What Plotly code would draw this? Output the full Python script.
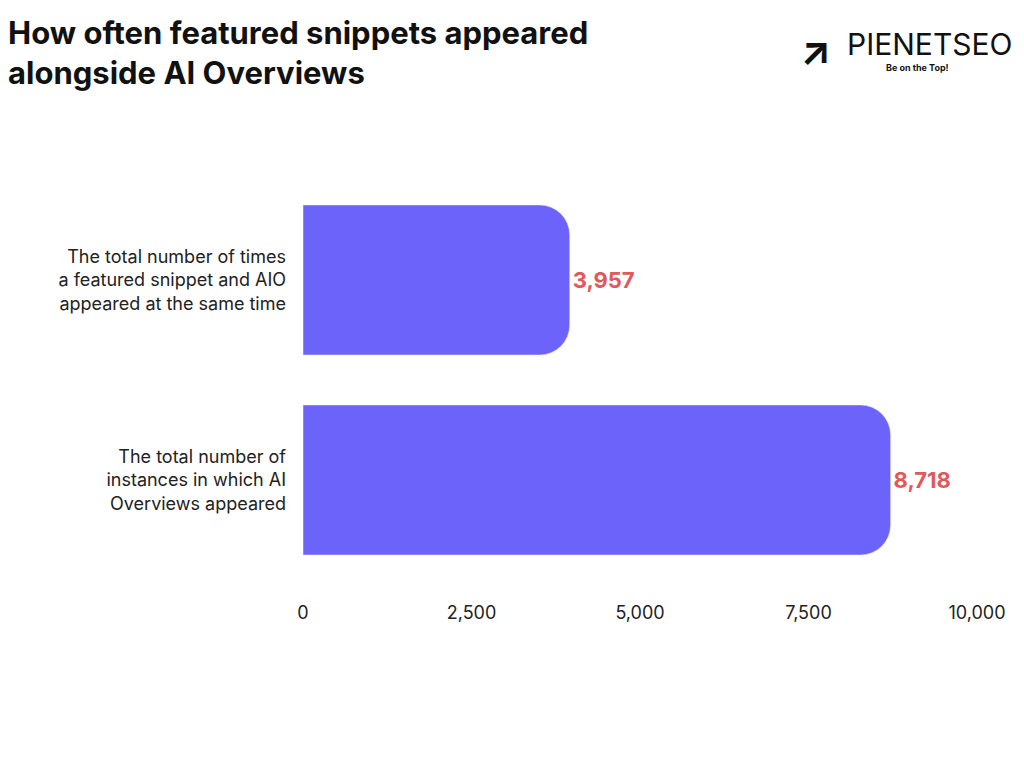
import plotly.graph_objects as go

categories = ["The total number of<br>instances in which AI<br>Overviews appeared",
              "The total number of times<br>a featured snippet and AIO<br>appeared at the same time"]
values = [8718, 3957]
value_labels = ["8,718", "3,957"]
tick_vals = [0, 2500, 5000, 7500, 10000]
tick_text = ["0", "2,500", "5,000", "7,500", "10,000"]

fig = go.Figure(go.Bar(
    x=values, y=categories, orientation="h",
    marker=dict(color="#6c63fa"),
    text=value_labels, textposition="outside",
    textfont=dict(color="#e0585a", size=22, family="Inter", weight="bold"),
    cliponaxis=False,
))
fig.update_layout(
    width=1024, height=768,
    paper_bgcolor="white", plot_bgcolor="white",
    margin=dict(l=295, r=55, t=172, b=196),
    bargap=0.25, barcornerradius=30,
    showlegend=False,
    font=dict(family="Inter", color="#222222", size=18),
)
fig.update_xaxes(range=[0, 10000], tickvals=tick_vals, ticktext=tick_text,
                 showgrid=False, zeroline=False, showline=False, ticks="",
                 ticklabelstandoff=20, tickfont=dict(size=18))
fig.update_yaxes(showgrid=False, showline=False, ticks="", ticklabelstandoff=16,
                 tickfont=dict(size=18))
fig.add_annotation(text="<b>How often featured snippets appeared<br>alongside AI Overviews</b>",
                   xref="paper", yref="paper", x=-0.44, y=1.42, xanchor="left", yanchor="top",
                   align="left", showarrow=False,
                   font=dict(size=31, family="Inter", color="#111111"))
fig.add_annotation(text="PIENETSEO", xref="paper", yref="paper", x=1.055, y=1.39,
                   xanchor="right", showarrow=False, font=dict(size=30, family="Inter", color="#111"))
fig.add_annotation(text="<b>Be on the Top!</b>", xref="paper", yref="paper", x=0.961, y=1.3,
                   xanchor="right", showarrow=False, font=dict(size=9, family="Inter", color="#111"))
fig.add_annotation(text="<b>↗</b>", xref="paper", yref="paper", x=0.786, y=1.39,
                   xanchor="right", showarrow=False, font=dict(size=40, color="#111"))
fig.write_html("out.html")
